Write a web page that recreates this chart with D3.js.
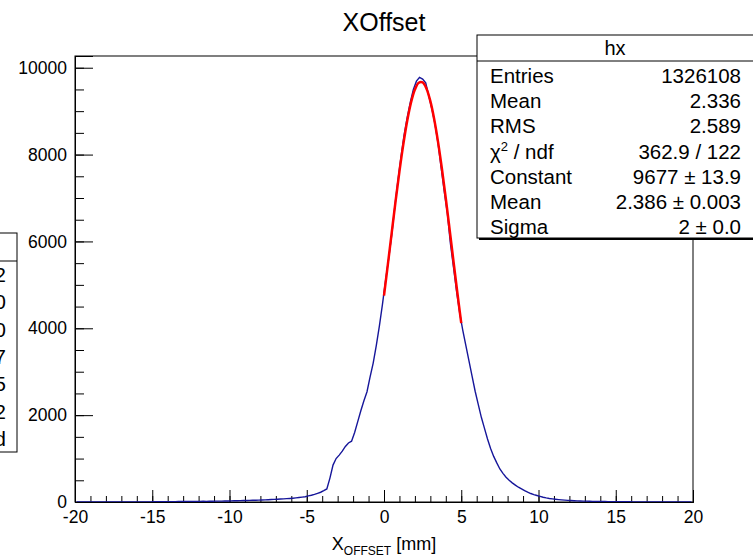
<!DOCTYPE html>
<html>
<head>
<meta charset="utf-8">
<script src="https://cdn.jsdelivr.net/npm/d3@7"></script>
<style>
  body { margin: 0; background: #fff; }
  svg { display: block; font-family: "Liberation Sans", Arial, Helvetica, sans-serif; }
</style>
</head>
<body>
<svg id="chart" width="753" height="557"></svg>
<script>
// histogram hx : 200 bins of 0.2 mm between -20 and 20
const histLow = -20;
const binWidth = 0.2;
const histCounts = [
  // -19.9 .. -15.1
  1, 0, 1, 2, 1, 0, 1, 2, 1, 1, 2, 1, 2, 3, 2, 1, 2, 3, 2, 3, 4, 3, 2, 3, 4,
  // -14.9 .. -10.1
  5, 6, 5, 7, 8, 7, 9, 8, 10, 11, 10, 12, 13, 12, 14, 15, 16, 15, 17, 18, 19, 20, 21, 22, 24,
  // -9.9 .. -5.1
  26, 28, 29, 31, 33, 35, 37, 39, 42, 44, 47, 50, 53, 56, 60, 64, 68, 72, 77, 82, 88, 95, 103, 112, 122,
  // -4.9 .. -3.7
  140, 155, 175, 200, 225, 260, 300,
  // -3.5 .. 12.3
  550, 850, 1000, 1080, 1170, 1280, 1360, 1400, 1600, 1850,
  2100, 2330, 2540, 2880, 3200, 3600, 4050, 4550, 5100, 5600,
  6150, 6800, 7400, 7950, 8450, 8850, 9200, 9500, 9690, 9780,
  9740, 9650, 9350, 9050, 8700, 8250, 7700, 7150, 6650, 5950,
  5400, 4850, 4350, 3950, 3600, 3250, 2900, 2550, 2250, 1950,
  1700, 1450, 1230, 1050, 900, 760, 660, 570, 500, 440,
  390, 340, 300, 260, 225, 195, 170, 150, 130, 110,
  95, 82, 72, 63, 55, 48, 42, 37, 33, 29,
  // 12.5 .. 19.9
  26, 23, 21, 19, 17, 15, 14, 12, 11, 10, 9, 8, 8, 7, 6, 6, 5, 5, 4, 4,
  4, 3, 3, 3, 2, 2, 2, 2, 1, 1, 1, 1, 1, 1, 0, 1, 0, 0
];

// gaussian fit drawn between 0 and 5 mm
const fitX = [0, 0.25, 0.5, 0.75, 1, 1.25, 1.5, 1.75, 2, 2.25, 2.5,
              2.75, 3, 3.25, 3.5, 3.75, 4, 4.25, 4.5, 4.75, 5];
const fitY = [4750, 5470, 6204, 6926, 7612, 8235, 8773, 9200, 9498, 9655, 9661,
              9518, 9232, 8815, 8287, 7669, 6988, 6268, 5535, 4813, 4120];

const xMajorTicks = [-20, -15, -10, -5, 0, 5, 10, 15, 20];
const xMinorTicks = d3.range(-20, 20.5, 1);
const yMajorTicks = [0, 2000, 4000, 6000, 8000, 10000];
const yMinorTicks = d3.range(0, 10001, 500);

const statsLabels = ["Entries", "Mean", "RMS", "χ2 / ndf", "Constant", "Mean", "Sigma"];
const statsValues = ["1326108", "2.336", "2.589", "362.9 / 122", "9677 ± 13.9", "2.386 ± 0.003", "2 ± 0.0"];
// last glyphs of the neighbouring (cut off) stats box
const leftBoxGlyphs = ["2", "0", "0", "7", "5", "2", "d"];

const svg = d3.select("#chart");
const width = 753, height = 557;
const margin = { top: 56, right: 60, bottom: 55, left: 75 };
const plotW = width - margin.left - margin.right;
const plotH = height - margin.top - margin.bottom;

const x = d3.scaleLinear().domain([-20, 20]).range([margin.left, margin.left + plotW]);
const y = d3.scaleLinear().domain([0, 10270]).range([margin.top + plotH, margin.top]);

svg.append("rect").attr("width", width).attr("height", height).attr("fill", "#fff");

svg.append("defs").append("clipPath").attr("id", "plotClip")
  .append("rect")
  .attr("x", margin.left).attr("y", margin.top)
  .attr("width", plotW).attr("height", plotH);

// title
svg.append("text")
  .attr("x", 384).attr("y", 31)
  .attr("text-anchor", "middle")
  .style("font-size", "25px")
  .text("XOffset");

// frame
svg.append("rect")
  .attr("x", margin.left).attr("y", margin.top)
  .attr("width", plotW).attr("height", plotH)
  .attr("fill", "none").attr("stroke", "#000").attr("stroke-width", 1);

// axes (ticks pointing inside the frame, ROOT style)
const plain = d => String(d);
const xAxisG = svg.append("g").attr("transform", `translate(0,${margin.top + plotH})`);
xAxisG.call(d3.axisBottom(x).tickValues(xMinorTicks).tickSize(-6).tickFormat(""));
xAxisG.append("g").call(d3.axisBottom(x).tickValues(xMajorTicks).tickSize(-12).tickPadding(9).tickFormat(plain));

const yAxisG = svg.append("g").attr("transform", `translate(${margin.left},0)`);
yAxisG.call(d3.axisLeft(y).tickValues(yMinorTicks).tickSize(-9).tickFormat(""));
yAxisG.append("g").call(d3.axisLeft(y).tickValues(yMajorTicks).tickSize(-18).tickPadding(8).tickFormat(plain));

svg.selectAll(".domain").attr("stroke", "#000");
svg.selectAll(".tick line").attr("stroke", "#000");
svg.selectAll(".tick text")
  .attr("fill", "#000")
  .style("font-family", "'Liberation Sans', Arial, sans-serif")
  .style("font-size", "17.5px");

// x axis title
const xTitle = svg.append("text")
  .attr("x", 384).attr("y", 550)
  .attr("text-anchor", "middle")
  .style("font-size", "18px");
xTitle.append("tspan").text("X");
xTitle.append("tspan").attr("dy", 5).style("font-size", "12px").text("OFFSET");
xTitle.append("tspan").attr("dy", -5).text(" [mm]");

// histogram outline (joined through bin centres, bins are too narrow to show steps)
const histLine = d3.line()
  .x((d, i) => x(histLow + (i + 0.5) * binWidth))
  .y(d => y(d));

svg.append("path")
  .datum(histCounts)
  .attr("clip-path", "url(#plotClip)")
  .attr("d", histLine)
  .attr("fill", "none")
  .attr("stroke", "#16169a")
  .attr("stroke-width", 1.4);

// fit
const fitLine = d3.line()
  .x((d, i) => x(fitX[i]))
  .y(d => y(d))
  .curve(d3.curveCatmullRom);

svg.append("path")
  .datum(fitY)
  .attr("d", fitLine)
  .attr("fill", "none")
  .attr("stroke", "#ff0000")
  .attr("stroke-width", 2.5);

// stats box
const box = { x: 477, y: 35, w: 277, h: 203, head: 26 };
const rowH = (box.h - box.head) / statsLabels.length;

svg.append("rect")
  .attr("x", box.x + 2).attr("y", box.y + 2)
  .attr("width", box.w).attr("height", box.h)
  .attr("fill", "#000");
svg.append("rect")
  .attr("x", box.x).attr("y", box.y)
  .attr("width", box.w).attr("height", box.h)
  .attr("fill", "#fff").attr("stroke", "#000").attr("stroke-width", 1);
svg.append("line")
  .attr("x1", box.x).attr("x2", box.x + box.w)
  .attr("y1", box.y + box.head).attr("y2", box.y + box.head)
  .attr("stroke", "#000");
svg.append("text")
  .attr("x", (box.x + width) / 2).attr("y", box.y + 20)
  .attr("text-anchor", "middle")
  .style("font-size", "20px")
  .text("hx");

statsLabels.forEach((lab, i) => {
  const by = box.y + box.head + rowH * (i + 0.5) + 9;
  const t = svg.append("text").attr("x", 490).attr("y", by).style("font-size", "20.5px");
  if (lab.startsWith("χ2")) {
    t.append("tspan").text("χ");
    t.append("tspan").attr("dy", -8).style("font-size", "13px").text("2");
    t.append("tspan").attr("dy", 8).text(" / ndf");
  } else {
    t.text(lab);
  }
  svg.append("text")
    .attr("x", 741).attr("y", by)
    .attr("text-anchor", "end")
    .style("font-size", "20.5px")
    .text(statsValues[i]);
});

// neighbouring stats box cut by the left edge
const lbox = { y: 233, h: 219, head: 28 };
const lrowH = (lbox.h - lbox.head) / leftBoxGlyphs.length;
svg.append("rect")
  .attr("x", -120).attr("y", lbox.y)
  .attr("width", 137).attr("height", lbox.h)
  .attr("fill", "#fff").attr("stroke", "#000").attr("stroke-width", 1);
svg.append("line")
  .attr("x1", 0).attr("x2", 17)
  .attr("y1", lbox.y + lbox.head).attr("y2", lbox.y + lbox.head)
  .attr("stroke", "#000");
leftBoxGlyphs.forEach((g, i) => {
  svg.append("text")
    .attr("x", 6).attr("y", lbox.y + lbox.head + lrowH * (i + 0.5) + 7.5)
    .attr("text-anchor", "end")
    .style("font-size", "20.5px")
    .text(g);
});
</script>
</body>
</html>
